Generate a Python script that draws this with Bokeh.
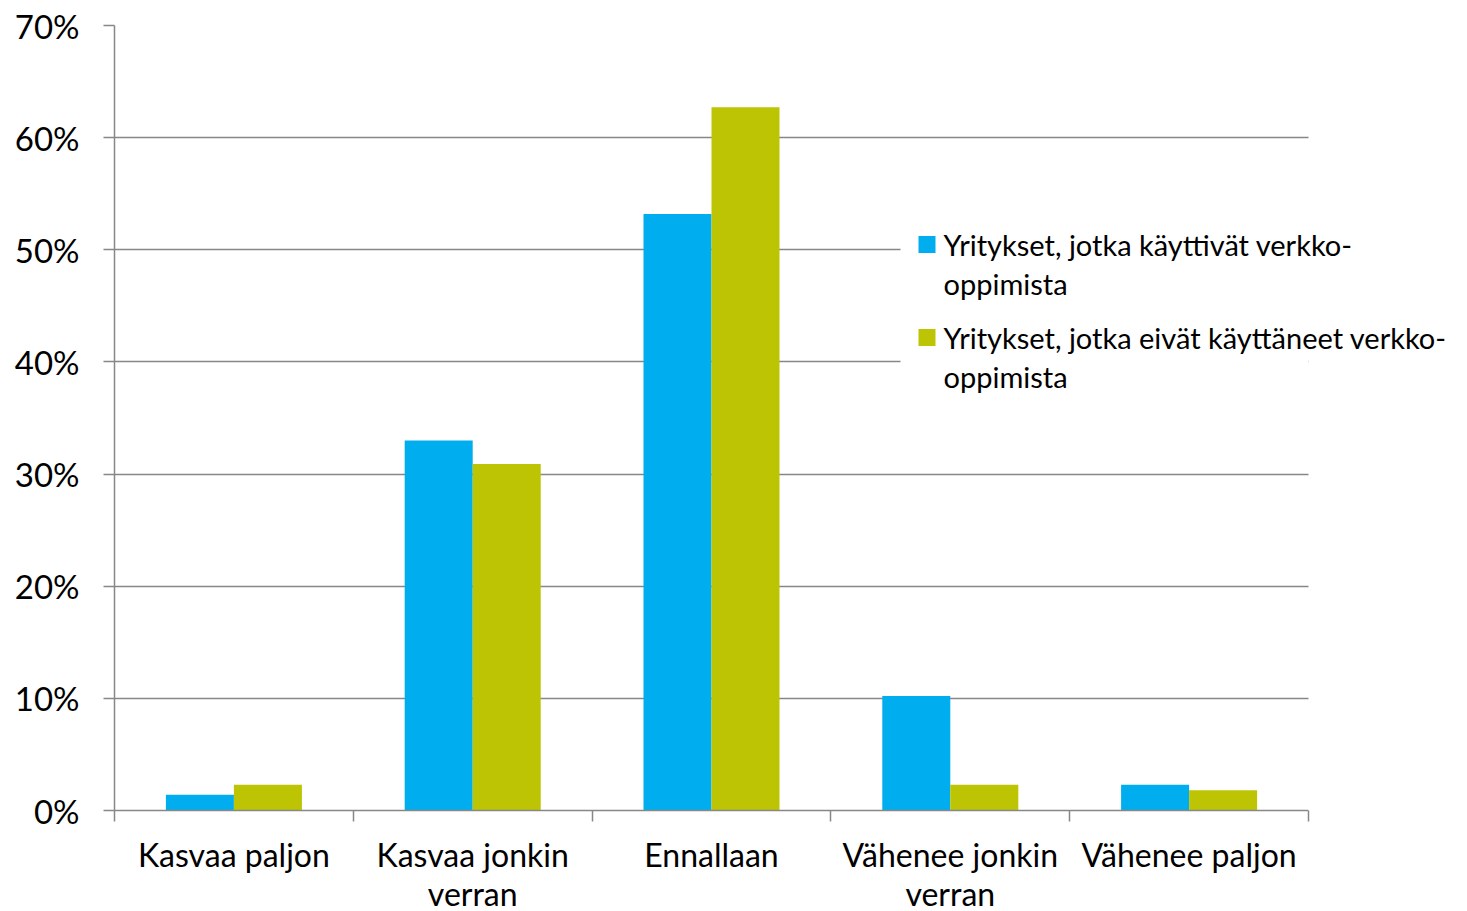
from bokeh.plotting import figure
from bokeh.models import Range1d, FixedTicker, Label, BoxAnnotation, ColumnDataSource, LinearAxis
from bokeh.embed import file_html
from bokeh.resources import INLINE

# ---- data ----
category_first = ["Kasvaa paljon", "Kasvaa jonkin", "Ennallaan", "Vähenee jonkin", "Vähenee paljon"]
category_second = ["", "verran", "", "verran", ""]
used = [1.4, 33.0, 53.2, 10.2, 2.3]
not_used = [2.3, 30.9, 62.7, 2.3, 1.8]
series_names = [["Yritykset, jotka käyttivät verkko-", "oppimista"],
                ["Yritykset, jotka eivät käyttäneet verkko-", "oppimista"]]
y_ticks = [0, 10, 20, 30, 40, 50, 60, 70]
y_tick_labels = ["0%", "10%", "20%", "30%", "40%", "50%", "60%", "70%"]

BLUE = "#00AEEF"
GREEN = "#BCC403"
GRID = "#878787"
FONT = "Lato"
FS = "32px"
FS_Y = "33px"
FS_LEG = "29px"

W = 1459
FL, FT = 114, 25           # frame left/top in canvas px
PLOT_W = 1194              # width of the category area
FW = W - FL                # frame runs to canvas right edge (room for legend)
FH = 785
n = len(category_first)
x_end = n * FW / PLOT_W

p = figure(width=W, height=903, frame_width=FW, frame_height=FH,
           x_range=Range1d(0, x_end), y_range=Range1d(0, 70),
           output_backend="svg", toolbar_location=None,
           min_border_left=FL, min_border_top=FT, min_border_right=0, min_border_bottom=0)
p.outline_line_color = None
p.background_fill_color = "white"

def px_x(px):
    return (px - FL) / PLOT_W * n

def px_y(py):
    return (FT + FH - py) / FH * 70

bw = 0.2848
centers = [i + 0.5 for i in range(n)]
src = ColumnDataSource(dict(
    xb=[c - bw / 2 for c in centers], xg=[c + bw / 2 for c in centers],
    used=used, not_used=not_used))
p.vbar(x="xb", top="used", width=bw, bottom=0, source=src, fill_color=BLUE, line_color=None)
p.vbar(x="xg", top="not_used", width=bw, bottom=0, source=src, fill_color=GREEN, line_color=None)

# x axis: category labels (first line) + boundary ticks
xa = p.xaxis[0]
xa.ticker = FixedTicker(ticks=centers, minor_ticks=list(range(n + 1)))
xa.bounds = (0, n)
xa.major_label_overrides = {c: t for c, t in zip(centers, category_first)}
xa.major_tick_line_color = None
xa.major_tick_out = 0
xa.major_tick_in = 0
xa.minor_tick_out = 11
xa.minor_tick_in = 0
xa.minor_tick_line_color = GRID
xa.minor_tick_line_width = 1.5
xa.axis_line_color = GRID
xa.axis_line_width = 1.5
xa.major_label_standoff = 13
xa.major_label_text_font = FONT
xa.major_label_text_font_size = FS
xa.major_label_text_color = "black"

# second line of the category labels
second_ticks = [c for c, t in zip(centers, category_second) if t]
xa2 = LinearAxis(ticker=FixedTicker(ticks=second_ticks),
                 major_label_overrides={c: t for c, t in zip(centers, category_second) if t},
                 axis_line_color=None, major_tick_line_color=None, minor_tick_line_color=None,
                 major_tick_out=0, major_tick_in=0, major_label_standoff=-3,
                 major_label_text_font=FONT, major_label_text_font_size=FS,
                 major_label_text_color="black")
p.add_layout(xa2, "below")

ya = p.yaxis[0]
ya.ticker = FixedTicker(ticks=y_ticks)
ya.major_label_overrides = {t: l for t, l in zip(y_ticks, y_tick_labels)}
ya.major_tick_out = 11
ya.major_tick_in = 0
ya.minor_tick_line_color = None
ya.axis_line_color = GRID
ya.major_tick_line_color = GRID
ya.axis_line_width = 1.5
ya.major_tick_line_width = 1.5
ya.major_label_standoff = 24
ya.major_label_text_font = FONT
ya.major_label_text_font_size = FS_Y
ya.major_label_text_color = "black"

p.xgrid.grid_line_color = None
p.ygrid.ticker = FixedTicker(ticks=y_ticks)
p.ygrid.grid_line_color = GRID
p.ygrid.grid_line_width = 1.5

# hide grid lines right of the category area and behind the legend
p.add_layout(BoxAnnotation(left=n, right=x_end, top=70, bottom=0,
                           fill_color="white", fill_alpha=1, line_color=None, level="annotation"))
p.add_layout(BoxAnnotation(left=px_x(900), right=n, top=px_y(215), bottom=px_y(400),
                           fill_color="white", fill_alpha=1, line_color=None, level="annotation"))

# legend (manual)
for j, (col, lines) in enumerate(zip([BLUE, GREEN], series_names)):
    yc = 244 + 93 * j
    p.add_layout(BoxAnnotation(left=px_x(918), right=px_x(935), top=px_y(yc - 8.5),
                               bottom=px_y(yc + 8.5), fill_color=col, fill_alpha=1,
                               line_color=None, level="annotation"))
    for k, line in enumerate(lines):
        p.add_layout(Label(x=px_x(943), y=px_y(yc + 39 * k), text=line, text_align="left",
                           text_baseline="middle", text_font=FONT, text_font_size=FS_LEG,
                           text_color="black"))

open("out.html", "w").write(file_html(p, INLINE))
